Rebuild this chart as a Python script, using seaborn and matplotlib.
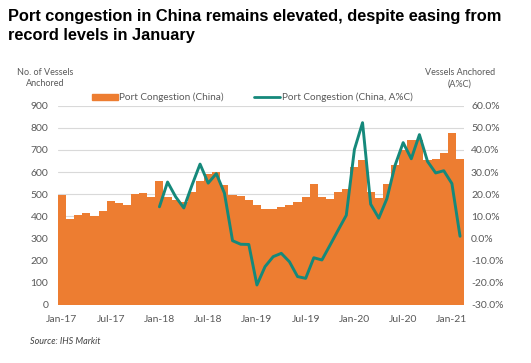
import numpy as np
import pandas as pd
import matplotlib
matplotlib.use("Agg")
import matplotlib.pyplot as plt
import seaborn as sns
from matplotlib.patches import Patch
from matplotlib.lines import Line2D
from matplotlib.ticker import FuncFormatter, MultipleLocator

# monthly, Jan-17 .. Feb-21
months = pd.date_range("2017-01-01", "2021-02-01", freq="MS")
month_labels = [m.strftime("%b-%y") for m in months]

# no. of vessels anchored
vessels = [497, 387, 404, 414, 402, 422, 471, 461, 452, 501, 504, 489,
           561, 489, 474, 464, 509, 560, 590, 599, 540, 495, 491, 473,
           450, 431, 435, 443, 453, 465, 488, 548, 488, 480, 508, 523,
           623, 656, 508, 483, 544, 631, 698, 746, 746, 653, 661, 686,
           776, 661]

# annual % change, starts Jan-18
yoy_start = 12
yoy = [14.3, 25.5, 18.8, 13.8, 24.0, 33.6, 25.0, 29.3, 20.5, -1.0, -2.6, -2.7,
       -21.0, -12.7, -8.2, -6.7, -10.5, -17.2, -18.0, -8.7, -9.7, -3.0, 3.8, 10.5,
       40.2, 52.3, 15.5, 9.2, 18.0, 33.0, 43.3, 36.0, 46.9, 34.8, 29.6, 30.6,
       24.8, 1.0]

ORANGE = "#ED7D31"
TEAL = "#15897B"
GREY = "#595959"

sns.set_theme(style="white")
plt.rcParams["font.family"] = ["Lato", "DejaVu Sans"]

fig = plt.figure(figsize=(5.31, 3.63), dpi=100)
ax = fig.add_axes([0.109, 0.160, 0.765, 0.549])

idx = np.arange(len(vessels))
df = pd.DataFrame({"i": idx, "vessels": vessels})
sns.barplot(data=df, x="i", y="vessels", color=ORANGE, width=1.0,
            saturation=1, linewidth=0, ax=ax)
ax.set_xlim(-0.5, len(vessels) - 0.5)
ax.set_ylim(0, 900)
ax.yaxis.set_major_locator(MultipleLocator(100))
ax.set_axisbelow(True)
ax.grid(axis="y", color="#D9D9D9", linewidth=0.8)
ax.grid(axis="x", visible=False)
ax.set_xticks(idx[::6])
ax.set_xticklabels(month_labels[::6])
ax.set_xlabel("")
ax.set_ylabel("")
ax.tick_params(axis="both", labelsize=7.5, colors=GREY, length=0)
ax.tick_params(axis="y", pad=7)
ax.tick_params(axis="x", pad=7)

ax2 = ax.twinx()
sns.lineplot(x=np.arange(yoy_start, yoy_start + len(yoy)), y=yoy,
             color=TEAL, linewidth=2.1, ax=ax2)
ax2.set_ylim(-30, 60)
ax2.yaxis.set_major_locator(MultipleLocator(10))
ax2.yaxis.set_major_formatter(FuncFormatter(lambda v, p: f"{v:.1f}%"))
ax2.tick_params(axis="y", labelsize=7.5, colors=GREY, length=0, pad=5)
ax2.set_ylabel("")

for a in (ax, ax2):
    for s in a.spines.values():
        s.set_visible(False)

handles = [Patch(color=ORANGE, label="Port Congestion (China)"),
           Line2D([0], [0], color=TEAL, lw=2, label="Port Congestion (China, A%C)")]
fig.legend(handles=handles, loc="center", bbox_to_anchor=(0.475, 0.731), ncol=2,
           frameon=False, fontsize=7.2, handlelength=2.6, handleheight=0.5,
           columnspacing=3.0, handletextpad=0.15, labelcolor=GREY)

fig.text(0.015, 0.975, "Port congestion in China remains elevated, despite easing from\nrecord levels in January",
         ha="left", va="top", fontsize=11.8, fontweight="bold",
         family=["Liberation Sans", "DejaVu Sans"], linespacing=1.3, color="black")
fig.text(0.085, 0.785, "No. of Vessels\nAnchored", ha="center", va="center",
         fontsize=6.5, color=GREY, linespacing=1.4)
fig.text(0.866, 0.785, "Vessels Anchored\n(A%C)", ha="center", va="center",
         fontsize=6.5, color=GREY, linespacing=1.4)
fig.text(0.057, 0.06, "Source: IHS Markit", ha="left", va="center",
         fontsize=6.5, style="italic", color="#404040")

fig.savefig("out.png", dpi=100)
